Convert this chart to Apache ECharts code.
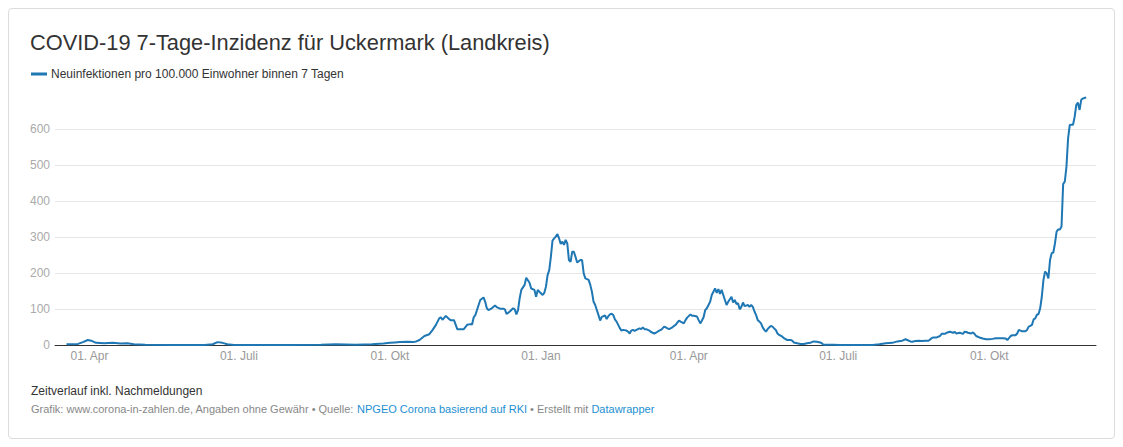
<!DOCTYPE html>
<html>
<head>
<meta charset="utf-8">
<script src="https://cdn.jsdelivr.net/npm/echarts@6/dist/echarts.min.js"></script>
<style>
  html, body { margin: 0; padding: 0; background: #fff; }
  #card { position: absolute; left: 8px; top: 8px; width: 1107px; height: 431px; border: 1px solid #dcdcdc; border-radius: 4px; box-sizing: border-box; }
  #chart { position: absolute; left: 0; top: 0; width: 1123px; height: 447px; }
</style>
</head>
<body>
<div id="card"></div>
<div id="chart"></div>
<script>
// x-axis range (daily categories)
const axisStart = '2020-03-11';
const axisEnd = '2021-12-05';
// labelled ticks
const tickDates = ['2020-04-01', '2020-07-01', '2020-10-01', '2021-01-01', '2021-04-01', '2021-07-01', '2021-10-01'];
const tickLabels = ['01. Apr', '01. Juli', '01. Okt', '01. Jan', '01. Apr', '01. Juli', '01. Okt'];
// y axis
const yTicks = [0, 100, 200, 300, 400, 500, 600];

// series: 7-Tage-Inzidenz
const dates = [
  '2020-03-18','2020-03-25','2020-03-28','2020-03-31','2020-04-02','2020-04-05','2020-04-10','2020-04-15','2020-04-20','2020-04-24',
  '2020-04-28','2020-05-05','2020-05-20','2020-06-10','2020-06-15','2020-06-18','2020-06-21','2020-06-24','2020-06-28','2020-08-01',
  '2020-08-20','2020-08-29','2020-09-10','2020-09-20','2020-09-27','2020-10-01','2020-10-04','2020-10-07','2020-10-12','2020-10-15',
  '2020-10-17','2020-10-19','2020-10-22','2020-10-25','2020-10-27','2020-10-29','2020-10-31','2020-11-01','2020-11-02','2020-11-04',
  '2020-11-06','2020-11-07','2020-11-09','2020-11-11','2020-11-13','2020-11-15','2020-11-17','2020-11-19','2020-11-20','2020-11-21',
  '2020-11-22','2020-11-24','2020-11-25','2020-11-27','2020-11-28','2020-11-29','2020-11-30','2020-12-02','2020-12-04','2020-12-05',
  '2020-12-07','2020-12-09','2020-12-10','2020-12-11','2020-12-13','2020-12-15','2020-12-16','2020-12-17','2020-12-18','2020-12-19',
  '2020-12-20','2020-12-22','2020-12-23','2020-12-25','2020-12-26','2020-12-28','2020-12-29','2020-12-30','2020-12-31','2021-01-02',
  '2021-01-03','2021-01-04','2021-01-05','2021-01-06','2021-01-07','2021-01-08','2021-01-09','2021-01-10','2021-01-11','2021-01-12',
  '2021-01-13','2021-01-14','2021-01-15','2021-01-16','2021-01-17','2021-01-18','2021-01-19','2021-01-20','2021-01-21','2021-01-22',
  '2021-01-23','2021-01-25','2021-01-26','2021-01-27','2021-01-28','2021-01-30','2021-01-31','2021-02-01','2021-02-02','2021-02-03',
  '2021-02-05','2021-02-06','2021-02-07','2021-02-09','2021-02-10','2021-02-11','2021-02-12','2021-02-13','2021-02-14','2021-02-15',
  '2021-02-16','2021-02-17','2021-02-18','2021-02-19','2021-02-20','2021-02-22','2021-02-23','2021-02-24','2021-02-25','2021-02-26',
  '2021-02-27','2021-03-01','2021-03-02','2021-03-03','2021-03-04','2021-03-05','2021-03-06','2021-03-08','2021-03-09','2021-03-11',
  '2021-03-12','2021-03-14','2021-03-15','2021-03-16','2021-03-17','2021-03-18','2021-03-19','2021-03-20','2021-03-22','2021-03-23',
  '2021-03-24','2021-03-25','2021-03-26','2021-03-27','2021-03-29','2021-03-30','2021-03-31','2021-04-02','2021-04-03','2021-04-04',
  '2021-04-06','2021-04-07','2021-04-08','2021-04-09','2021-04-10','2021-04-11','2021-04-12','2021-04-14','2021-04-15','2021-04-16',
  '2021-04-17','2021-04-18','2021-04-19','2021-04-20','2021-04-21','2021-04-22','2021-04-23','2021-04-24','2021-04-25','2021-04-27',
  '2021-04-28','2021-04-29','2021-04-30','2021-05-01','2021-05-02','2021-05-03','2021-05-04','2021-05-05','2021-05-07','2021-05-08',
  '2021-05-09','2021-05-10','2021-05-11','2021-05-12','2021-05-13','2021-05-14','2021-05-15','2021-05-16','2021-05-17','2021-05-18',
  '2021-05-19','2021-05-20','2021-05-21','2021-05-22','2021-05-23','2021-05-24','2021-05-25','2021-05-26','2021-05-28','2021-05-29',
  '2021-05-30','2021-05-31','2021-06-02','2021-06-03','2021-06-04','2021-06-06','2021-06-08','2021-06-10','2021-06-12','2021-06-14',
  '2021-06-16','2021-06-18','2021-06-20','2021-06-21','2021-06-22','2021-06-28','2021-07-02','2021-07-22','2021-07-26','2021-07-30',
  '2021-08-03','2021-08-06','2021-08-09','2021-08-11','2021-08-12','2021-08-14','2021-08-15','2021-08-17','2021-08-19','2021-08-21',
  '2021-08-23','2021-08-25','2021-08-27','2021-08-28','2021-08-30','2021-09-01','2021-09-02','2021-09-04','2021-09-05','2021-09-07',
  '2021-09-09','2021-09-10','2021-09-11','2021-09-13','2021-09-15','2021-09-16','2021-09-17','2021-09-18','2021-09-20','2021-09-21',
  '2021-09-22','2021-09-23','2021-09-24','2021-09-25','2021-09-27','2021-09-29','2021-10-01','2021-10-03','2021-10-05','2021-10-07',
  '2021-10-09','2021-10-11','2021-10-12','2021-10-13','2021-10-14','2021-10-15','2021-10-17','2021-10-18','2021-10-19','2021-10-20',
  '2021-10-21','2021-10-23','2021-10-24','2021-10-25','2021-10-26','2021-10-27','2021-10-28','2021-10-29','2021-10-30','2021-10-31',
  '2021-11-01','2021-11-02','2021-11-03','2021-11-04','2021-11-05','2021-11-06','2021-11-07','2021-11-08','2021-11-09','2021-11-10',
  '2021-11-11','2021-11-12','2021-11-13','2021-11-14','2021-11-15','2021-11-16','2021-11-17','2021-11-18','2021-11-19','2021-11-20',
  '2021-11-21','2021-11-22','2021-11-23','2021-11-24','2021-11-25','2021-11-26','2021-11-27','2021-11-28','2021-11-29'
];
const values = [
  2, 3, 8, 14, 12, 6, 5, 6, 4, 5,
  2, 1, 0, 0, 2, 8, 6, 2, 0, 0,
  1, 2, 1, 2, 4, 6, 7, 8, 9, 8,
  10, 14, 25, 30, 42, 56, 74, 77, 70, 81,
  72, 69, 69, 44, 44, 44, 56, 58, 57, 77,
  83, 111, 125, 132, 120, 102, 97, 102, 110, 105,
  101, 101, 99, 86, 93, 102, 99, 85, 97, 130,
  153, 167, 187, 173, 157, 153, 134, 153, 148, 139,
  145, 162, 194, 208, 245, 290, 296, 301, 308, 296,
  281, 287, 278, 292, 282, 236, 231, 259, 259, 245,
  229, 236, 236, 199, 185, 181, 167, 148, 120, 111,
  83, 68, 78, 82, 72, 80, 85, 87, 83, 71,
  65, 56, 47, 40, 42, 40, 37, 32, 40, 42,
  39, 44, 46, 44, 49, 44, 44, 40, 36, 32,
  34, 40, 42, 46, 51, 49, 46, 44, 49, 53,
  56, 62, 68, 65, 60, 69, 76, 85, 81, 81,
  79, 69, 60, 68, 77, 97, 102, 120, 139, 148,
  157, 145, 155, 142, 153, 139, 125, 111, 120, 134,
  118, 125, 114, 116, 99, 106, 118, 108, 111, 106,
  111, 106, 93, 83, 69, 65, 60, 49, 42, 37,
  44, 49, 53, 51, 46, 42, 32, 28, 23, 19,
  16, 14, 14, 12, 7, 5, 3, 3, 5, 6,
  10, 9, 7, 5, 1, 1, 0, 0, 2, 5,
  6, 10, 12, 16, 14, 10, 9, 11, 12, 11,
  12, 12, 19, 21, 21, 25, 31, 31, 34, 37,
  34, 36, 32, 34, 31, 37, 36, 34, 32, 35,
  31, 25, 23, 21, 18, 16, 16, 17, 19, 19,
  19, 18, 14, 19, 25, 27, 27, 32, 42, 40,
  38, 38, 42, 51, 53, 56, 71, 74, 84, 86,
  102, 134, 181, 204, 199, 185, 236, 255, 257, 282,
  315, 321, 321, 329, 447, 454, 495, 574, 611, 612,
  612, 634, 667, 673, 653, 681, 685, 686, 688
];

// build daily category list
function buildDays(start, end) {
  const out = [];
  const d = new Date(start + 'T00:00:00Z');
  const e = new Date(end + 'T00:00:00Z');
  while (d <= e) {
    out.push(d.toISOString().slice(0, 10));
    d.setUTCDate(d.getUTCDate() + 1);
  }
  return out;
}
const days = buildDays(axisStart, axisEnd);
const seriesData = dates.map((d, i) => [d, values[i]]);

const FONT = '"Liberation Sans", Arial, Helvetica, sans-serif';
const LINE_COLOR = '#1f77b4';

const chart = echarts.init(document.getElementById('chart'), null, { renderer: 'svg' });
chart.setOption({
  animation: false,
  textStyle: { fontFamily: FONT },
  title: {
    text: 'COVID-19 7-Tage-Inzidenz für Uckermark (Landkreis)',
    left: 30, top: 31, padding: 0,
    textStyle: { fontFamily: FONT, fontSize: 21.8, fontWeight: 'normal', color: '#333' }
  },
  legend: {
    left: 31, top: 68, padding: 0,
    icon: 'rect', itemWidth: 16, itemHeight: 3, itemGap: 10,
    textStyle: { fontFamily: FONT, fontSize: 12, color: '#333', padding: [0, 0, 0, -1] },
    data: ['Neuinfektionen pro 100.000 Einwohner binnen 7 Tagen']
  },
  grid: { left: 55, right: 27, top: 93, bottom: 102, containLabel: false },
  xAxis: {
    type: 'category',
    data: days,
    boundaryGap: false,
    axisLine: { show: true, lineStyle: { color: '#333', width: 1 } },
    axisTick: { show: false },
    splitLine: { show: false },
    axisLabel: {
      interval: (idx, val) => tickDates.indexOf(val) >= 0,
      formatter: (val) => { const i = tickDates.indexOf(val); return i >= 0 ? tickLabels[i] : ''; },
      color: '#999', fontFamily: FONT, fontSize: 12, margin: 5
    }
  },
  yAxis: {
    type: 'value',
    min: 0, max: 700, interval: 100,
    axisLine: { show: false },
    axisTick: { show: false },
    splitLine: { show: true, showMaxLine: false, lineStyle: { color: ['#e6e6e6', '#e6e6e6', '#e6e6e6', '#e6e6e6', '#e6e6e6', '#e6e6e6', '#e6e6e6', 'rgba(0,0,0,0)'] } },
    axisLabel: {
      showMaxLabel: false,
      formatter: (v) => yTicks.indexOf(v) >= 0 ? String(v) : '',
      color: '#aaa', fontFamily: FONT, fontSize: 12, margin: 5
    }
  },
  graphic: [
    {
      type: 'text', left: 31, top: 385,
      style: { text: 'Zeitverlauf inkl. Nachmeldungen', font: '12px ' + FONT, fill: '#333' }
    },
    {
      type: 'text', left: 31, top: 403,
      style: {
        text: '{g|Grafik: www.corona-in-zahlen.de, Angaben ohne Gewähr • Quelle: }{b|NPGEO Corona basierend auf RKI}{g| • Erstellt mit }{b|Datawrapper}',
        font: '11px ' + FONT,
        rich: {
          g: { fill: '#888', fontSize: 11, fontFamily: FONT },
          b: { fill: '#1d8fd1', fontSize: 11, fontFamily: FONT }
        }
      }
    }
  ],
  series: [{
    name: 'Neuinfektionen pro 100.000 Einwohner binnen 7 Tagen',
    type: 'line',
    data: seriesData,
    showSymbol: false,
    symbol: 'none',
    smooth: false,
    lineStyle: { color: LINE_COLOR, width: 2 },
    itemStyle: { color: LINE_COLOR }
  }]
});
</script>
</body>
</html>
